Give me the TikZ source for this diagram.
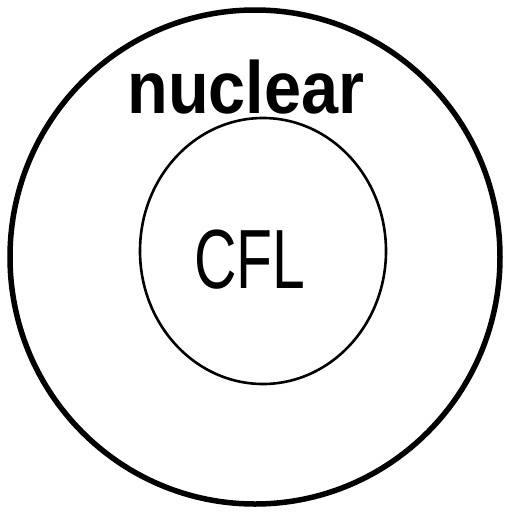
\documentclass[tikz,border=0pt]{standalone}
\usepackage{fontspec}
\setmainfont{Liberation Sans}
\usepackage{tikz}
\usetikzlibrary{shapes.geometric}
\definecolor{cink}{HTML}{000000}
\tikzset{
  region/.style={ellipse, draw=cink, inner sep=0pt, line cap=round},
  outerreg/.style={region, line width=5.5pt},
  innerreg/.style={region, line width=2.6pt},
  bigtag/.style={font=\bfseries\fontsize{74}{74}\selectfont, xscale=0.9,
    anchor=base, inner sep=0pt},
  smalltag/.style={font=\fontsize{84}{84}\selectfont, xscale=0.7,
    anchor=base, inner sep=0pt},
}

\begin{document}
\begin{tikzpicture}[x=1pt, y=-1pt]
  \useasboundingbox (0,0) rectangle (512,515);
  \node[outerreg, minimum width=490pt, minimum height=494pt] (nuc) at (255,257) {};
  \node[innerreg, minimum width=246pt, minimum height=266pt] (cfl) at (263,251) {};
  \node[bigtag] (nuclabel) at (246,113) {nuclear};
  \node[smalltag] (cfllabel) at (250,288) {CFL};
\end{tikzpicture}
\end{document}
